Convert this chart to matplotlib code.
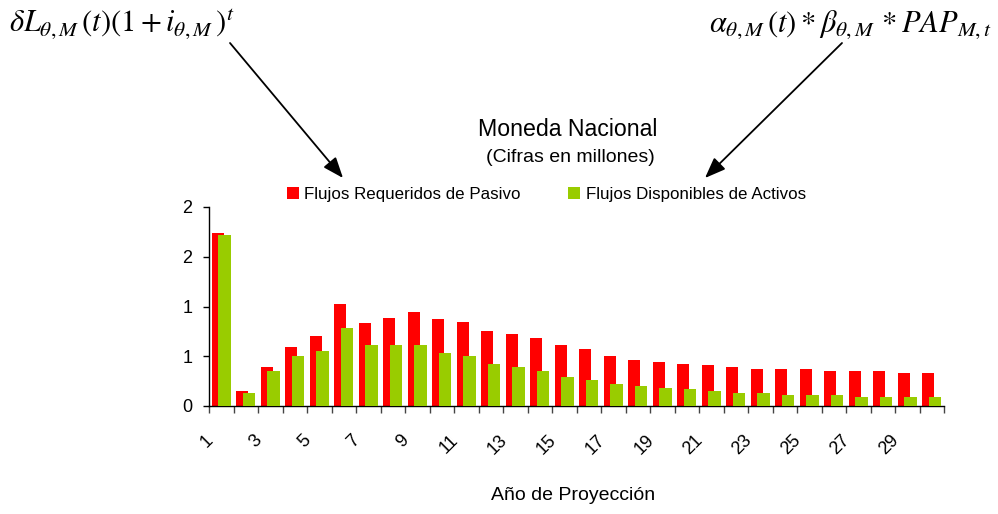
import matplotlib
matplotlib.use("Agg")
import matplotlib.pyplot as plt
import matplotlib.transforms as mtransforms
import numpy as np

# Projection years and cash flows (millions)
years = list(range(1, 31))
flujos_pasivo = [1.74, 0.15, 0.39, 0.59, 0.70, 1.03, 0.83, 0.88, 0.94, 0.87,
                 0.84, 0.755, 0.72, 0.68, 0.61, 0.57, 0.50, 0.46, 0.44, 0.42,
                 0.41, 0.39, 0.37, 0.37, 0.37, 0.35, 0.35, 0.35, 0.33, 0.33]
flujos_activos = [1.72, 0.13, 0.35, 0.50, 0.55, 0.78, 0.61, 0.61, 0.61, 0.53,
                  0.50, 0.42, 0.39, 0.35, 0.295, 0.26, 0.225, 0.205, 0.185, 0.17,
                  0.15, 0.13, 0.13, 0.115, 0.115, 0.115, 0.095, 0.095, 0.095, 0.095]
yticks = [0, 0.5, 1.0, 1.5, 2.0]
ytick_labels = ["0", "1", "1", "2", "2"]
xtick_years = list(range(1, 30, 2))

serie_pasivo = "Flujos Requeridos de Pasivo"
serie_activos = "Flujos Disponibles de Activos"
titulo = "Moneda Nacional"
subtitulo = "(Cifras en millones)"
eje_x = "Año de Proyección"
formula_pasivo = r"$\delta L_{\theta,M}\,(t)(1+i_{\theta,M}\,)^{t}$"
formula_activos = r"$\alpha_{\theta,M}\,(t)*\beta_{\theta,M}\,*PAP_{M,t}$"

RED = "#FF0000"
GREEN = "#99CC00"

plt.rcParams["font.family"] = ["Liberation Sans", "DejaVu Sans"]
plt.rcParams["mathtext.fontset"] = "stix"

W, H = 998, 514
fig = plt.figure(figsize=(W / 100, H / 100), dpi=100)
ax = fig.add_axes([209 / W, 1 - 406 / H, (944 - 209) / W, (406 - 207) / H])

x = np.array(years, dtype=float)
b1 = ax.bar(x - 0.14, flujos_pasivo, width=0.5, color=RED, linewidth=0,
            label=serie_pasivo, zorder=2)
b2 = ax.bar(x + 0.13, flujos_activos, width=0.52, color=GREEN, linewidth=0,
            label=serie_activos, zorder=3)

ax.set_xlim(0.5, len(years) + 0.5)
ax.set_ylim(0, 2)

# y axis
ax.set_yticks(yticks)
ax.set_yticklabels(ytick_labels, fontsize=13)
ax.tick_params(axis="y", direction="out", length=4, width=1, pad=8, colors="black")

# x axis: tick marks at category boundaries, rotated labels placed separately
ax.set_xticks(np.arange(0.5, len(years) + 1, 1.0))
ax.set_xticklabels([])
ax.tick_params(axis="x", direction="out", length=5, width=1, color="#444444")
lbl_trans = mtransforms.blended_transform_factory(ax.transData, ax.transAxes)
for yr in xtick_years:
    ax.text(yr - 0.45, -0.16, str(yr), transform=lbl_trans, rotation=45,
            rotation_mode="anchor", ha="right", va="center", fontsize=13)

for s in ["top", "right"]:
    ax.spines[s].set_visible(False)
for s in ["left", "bottom"]:
    ax.spines[s].set_linewidth(1)
    ax.spines[s].set_color("black")

# titles and axis name
fig.text(568 / W, 1 - 129 / H, titulo, ha="center", va="center", fontsize=16.7)
fig.text(570 / W, 1 - 157 / H, subtitulo, ha="center", va="center", fontsize=14)
fig.text(573 / W, 1 - 496 / H, eje_x, ha="center", va="center", fontsize=14)

# legend
ax.legend(handles=[b1, b2], loc="center left", ncol=2, frameon=False,
          bbox_to_anchor=(287 / W, 1 - 194 / H), bbox_transform=fig.transFigure,
          fontsize=12.2, handlelength=0.72, handleheight=0.72, handletextpad=0.3,
          columnspacing=2.8, borderaxespad=0, borderpad=0)

# formulas with arrows
fig.text(9 / W, 1 - 32 / H, formula_pasivo, ha="left", va="baseline", fontsize=22)
fig.text(992 / W, 1 - 32 / H, formula_activos, ha="right", va="baseline", fontsize=22)

arrow = dict(arrowstyle="-|>,head_length=0.9,head_width=0.35", color="black",
             lw=1.3, mutation_scale=14, shrinkA=0, shrinkB=0)
fig.add_artist(matplotlib.patches.FancyArrowPatch(
    (230 / W, 1 - 43 / H), (343 / W, 1 - 178 / H),
    transform=fig.transFigure, **arrow))
fig.add_artist(matplotlib.patches.FancyArrowPatch(
    (842 / W, 1 - 43 / H), (705 / W, 1 - 178 / H),
    transform=fig.transFigure, **arrow))

fig.savefig("out.png", dpi=100, facecolor="white")
